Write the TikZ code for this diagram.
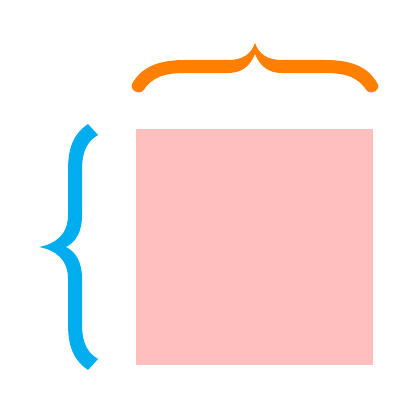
\documentclass[tikz,border=0pt]{standalone}
\usepackage{xcolor}
\usepackage{tikz}
\definecolor{BRorange}{RGB}{255,128,0}
\definecolor{BRcyan}{RGB}{0,174,239}
\definecolor{BRpink}{RGB}{255,191,191}
\tikzstyle{topbrace}  = [fill=BRorange]
\tikzstyle{sidebrace} = [fill=BRcyan]

\begin{document}
\begin{tikzpicture}[x=1pt, y=-1pt]
  \useasboundingbox (0,0) rectangle (420,420);
  % the square
  \fill[BRpink] (136,129) rectangle (373,365);

  % brace over the top
  \path[topbrace] (132,84) .. controls (142,66) and (160,60) .. (185,60)
       -- (228,60) .. controls (243,60) and (251,54) .. (255,43)
       .. controls (259,54) and (267,60) .. (282,60)
       -- (325,60) .. controls (350,60) and (368,66) .. (377.6,83.8)
       .. controls (381,89.5) and (372,96) .. (366.4,90.2)
       .. controls (358,77) and (345,73) .. (325,73)
       -- (282,73) .. controls (268,73) and (260,66) .. (255,54)
       .. controls (250,66) and (242,73) .. (228,73)
       -- (185,73) .. controls (165,73) and (152,77) .. (143.6,90.2)
       .. controls (138,96) and (129,89.5) .. (132.4,83.8) -- cycle;

  % brace on the left
  \path[sidebrace] (88,124) .. controls (75,133) and (68,145) .. (68,170)
       -- (68,215) .. controls (68,235) and (55,244) .. (39,247)
       .. controls (55,250) and (68,259) .. (68,279)
       -- (68,324) .. controls (68,349) and (75,361) .. (88,370)
       -- (98,359) .. controls (88,353) and (82,344) .. (82,324)
       -- (82,279) .. controls (82,262) and (76,252) .. (66,247)
       .. controls (76,242) and (82,232) .. (82,215)
       -- (82,170) .. controls (82,150) and (88,141) .. (98,135) -- cycle;
\end{tikzpicture}
\end{document}
